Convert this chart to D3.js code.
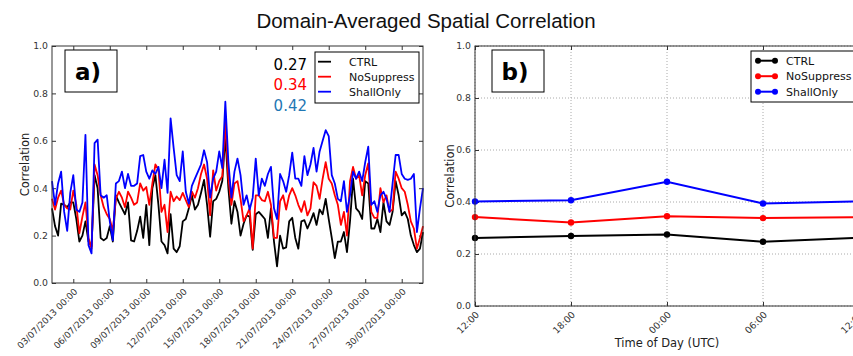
<!DOCTYPE html>
<html><head><meta charset="utf-8">
<script src="https://cdn.jsdelivr.net/npm/d3@7"></script>
<style>body{margin:0;background:#fff} svg{display:block} text{font-family:"DejaVu Sans",sans-serif}</style>
</head><body><svg id="c" width="853" height="356"></svg>
<script>
// ---------- data ----------
const startTime = "2013-07-01T06:00:00Z";
const stepHours = 6;
const ctrl = [0.315,0.24,0.20,0.335,0.33,0.32,0.34,0.34,0.27,0.175,0.20,0.26,0.175,0.155,0.455,0.40,0.19,0.18,0.19,0.24,
0.175,0.37,0.34,0.315,0.29,0.34,0.18,0.175,0.22,0.28,0.19,0.33,0.16,0.40,0.455,0.33,0.175,0.16,0.125,0.29,
0.145,0.13,0.155,0.26,0.27,0.315,0.37,0.31,0.33,0.38,0.435,0.33,0.195,0.345,0.355,0.385,0.43,0.62,0.40,0.25,
0.345,0.30,0.20,0.25,0.285,0.28,0.14,0.29,0.30,0.285,0.27,0.19,0.315,0.175,0.07,0.20,0.145,0.15,0.26,0.275,
0.19,0.145,0.26,0.265,0.23,0.26,0.295,0.245,0.31,0.29,0.355,0.27,0.19,0.105,0.175,0.175,0.215,0.13,0.26,0.44,
0.315,0.30,0.27,0.43,0.42,0.23,0.23,0.27,0.215,0.34,0.26,0.245,0.30,0.43,0.37,0.285,0.30,0.27,0.20,0.16,
0.13,0.145,0.215];
const noSuppress = [0.355,0.31,0.36,0.39,0.33,0.315,0.31,0.39,0.33,0.21,0.28,0.34,0.19,0.145,0.50,0.455,0.37,0.32,0.29,0.27,
0.22,0.355,0.385,0.36,0.32,0.385,0.36,0.33,0.34,0.42,0.39,0.405,0.33,0.42,0.50,0.48,0.30,0.33,0.215,0.385,
0.345,0.365,0.35,0.38,0.35,0.32,0.385,0.36,0.40,0.46,0.50,0.44,0.285,0.475,0.39,0.43,0.45,0.68,0.44,0.33,
0.42,0.43,0.355,0.26,0.285,0.315,0.145,0.37,0.37,0.35,0.345,0.385,0.33,0.19,0.19,0.345,0.37,0.31,0.37,0.40,
0.37,0.33,0.30,0.345,0.285,0.315,0.425,0.41,0.355,0.44,0.51,0.44,0.42,0.37,0.33,0.245,0.30,0.20,0.43,0.49,
0.44,0.455,0.37,0.455,0.505,0.30,0.275,0.275,0.40,0.34,0.37,0.30,0.31,0.47,0.44,0.40,0.385,0.33,0.26,0.23,
0.145,0.19,0.24];
const shallOnly = [0.43,0.33,0.42,0.47,0.30,0.22,0.38,0.455,0.31,0.30,0.34,0.625,0.16,0.125,0.59,0.605,0.37,0.36,0.37,0.26,
0.18,0.42,0.43,0.47,0.40,0.46,0.41,0.41,0.42,0.535,0.54,0.47,0.44,0.475,0.46,0.49,0.40,0.52,0.38,0.695,
0.57,0.455,0.43,0.555,0.385,0.335,0.41,0.44,0.47,0.50,0.56,0.51,0.36,0.44,0.47,0.555,0.485,0.765,0.51,0.36,
0.47,0.525,0.455,0.33,0.37,0.31,0.36,0.525,0.37,0.44,0.41,0.46,0.49,0.315,0.27,0.46,0.43,0.385,0.455,0.55,
0.44,0.44,0.41,0.535,0.455,0.50,0.57,0.47,0.555,0.60,0.645,0.62,0.455,0.42,0.355,0.345,0.43,0.30,0.37,0.47,
0.44,0.47,0.43,0.51,0.575,0.33,0.345,0.30,0.37,0.385,0.355,0.30,0.42,0.54,0.54,0.46,0.44,0.435,0.44,0.46,
0.215,0.315,0.40];
const seriesNames = ["CTRL","NoSuppress","ShallOnly"];
const seriesColors = ["#000000","#ff0000","#0000ff"];
const meanLabels = ["0.27","0.34","0.42"];
const meanColors = ["#000000","#ff0000","#1f77b4"];
const dateTicks = ["2013-07-03","2013-07-06","2013-07-09","2013-07-12","2013-07-15","2013-07-18","2013-07-21","2013-07-24","2013-07-27","2013-07-30"];
const yTicks = [0,0.2,0.4,0.6,0.8,1.0];
const diurnalHours = [0,6,12,18,24];
const diurnalLabels = ["12:00","18:00","00:00","06:00","12:00"];
const diurnalCtrl = [0.262,0.269,0.275,0.247,0.262];
const diurnalNoSuppress = [0.342,0.321,0.345,0.338,0.342];
const diurnalShallOnly = [0.402,0.407,0.478,0.394,0.402];

// ---------- drawing ----------
const svg = d3.select("#c");
svg.append("rect").attr("width",853).attr("height",356).attr("fill","#fff");
const frameColor = "#333", tickColor = "#333";

svg.append("text").attr("x",426).attr("y",28).attr("text-anchor","middle")
  .style("font-family","'Liberation Sans',Arial,sans-serif").style("font-size","20.5px").attr("fill","#111")
  .text("Domain-Averaged Spatial Correlation");

// Panel a
const A = {l:52, r:423, t:46, b:283};
const times = ctrl.map((_,i)=> new Date(Date.parse(startTime) + i*stepHours*3600e3));
const xa = d3.scaleUtc().domain([times[0], times[times.length-1]]).range([A.l, A.r]);
const ya = d3.scaleLinear().domain([0,1]).range([A.b, A.t]);
const fmt = d3.utcFormat("%d/%m/%Y %H:%M");
const tickDates = dateTicks.map(s=>new Date(s+"T00:00:00Z"));

function styleAxis(g){
  g.select(".domain").remove();
  g.selectAll(".tick line").attr("stroke",frameColor);
  g.selectAll("text").attr("fill",tickColor).style("font-size","9.3px").style("font-family","'DejaVu Sans',sans-serif");
}

const gxa = svg.append("g").attr("transform",`translate(0,${A.b})`)
  .call(d3.axisBottom(xa).tickValues(tickDates).tickFormat(fmt).tickSizeInner(-4).tickSizeOuter(0));
styleAxis(gxa);
gxa.selectAll("text").style("font-size","9px").attr("x",0).attr("y",0).attr("dy","0.35em").attr("text-anchor","end")
  .attr("transform","translate(2,7) rotate(-45)");
svg.append("g").attr("transform",`translate(0,${A.t})`)
  .call(d3.axisTop(xa).tickValues(tickDates).tickFormat("").tickSizeInner(-4).tickSizeOuter(0)).call(styleAxis);
const gya = svg.append("g").attr("transform",`translate(${A.l},0)`)
  .call(d3.axisLeft(ya).tickValues(yTicks).tickFormat(d3.format(".1f")).tickSizeInner(-4).tickSizeOuter(0).tickPadding(4));
styleAxis(gya);
svg.append("g").attr("transform",`translate(${A.r},0)`)
  .call(d3.axisRight(ya).tickValues(yTicks).tickFormat("").tickSizeInner(-4).tickSizeOuter(0)).call(styleAxis);

const lineA = d3.line().x((d,i)=>xa(times[i])).y(d=>ya(d));
[ctrl, noSuppress, shallOnly].forEach((s,k)=>{
  svg.append("path").datum(s).attr("d",lineA).attr("fill","none")
    .attr("stroke",seriesColors[k]).attr("stroke-width",1.8).attr("stroke-linejoin","round");
});
svg.append("rect").attr("x",A.l).attr("y",A.t).attr("width",A.r-A.l).attr("height",A.b-A.t)
  .attr("fill","none").attr("stroke",frameColor).attr("stroke-width",1);

svg.append("text").attr("transform",`translate(25,${(A.t+A.b)/2}) rotate(-90)`).attr("text-anchor","middle")
  .attr("dy","0.35em").style("font-size","11.5px").attr("fill","#222").text("Correlation");

// a) label box
svg.append("rect").attr("x",65).attr("y",50).attr("width",52).attr("height",42).attr("fill","#fff").attr("stroke","#000").attr("stroke-width",1);
svg.append("text").attr("x",88).attr("y",80).attr("text-anchor","middle").style("font-size","23px").style("font-weight","bold").text("a)");

// means
meanLabels.forEach((t,k)=>{
  svg.append("text").attr("x",307).attr("y",69.5+k*20.5).attr("text-anchor","end")
    .style("font-size","15px").attr("fill",meanColors[k]).text(t);
});

// legend a
svg.append("rect").attr("x",315).attr("y",52).attr("width",104).attr("height",51).attr("fill","#fff").attr("stroke","#000").attr("stroke-width",1);
seriesNames.forEach((n,k)=>{
  const y = 61.7 + k*15;
  svg.append("line").attr("x1",318).attr("x2",331).attr("y1",y).attr("y2",y).attr("stroke",seriesColors[k]).attr("stroke-width",1.8);
  svg.append("text").attr("x",349).attr("y",y).attr("dy","0.35em").style("font-size","11px").attr("fill","#111").text(n);
});

// Panel b
const B = {l:475, r:859, t:46, b:306};
const xb = d3.scaleLinear().domain([0,24]).range([B.l, B.r]);
const yb = d3.scaleLinear().domain([0,1]).range([B.b, B.t]);

svg.append("g").selectAll("line").data(diurnalHours).join("line")
  .attr("x1",d=>xb(d)).attr("x2",d=>xb(d)).attr("y1",B.t).attr("y2",B.b)
  .attr("stroke","#aaa").attr("stroke-width",1).attr("stroke-dasharray","1,2");
svg.append("g").selectAll("line").data(yTicks).join("line")
  .attr("y1",d=>yb(d)).attr("y2",d=>yb(d)).attr("x1",B.l).attr("x2",B.r)
  .attr("stroke","#aaa").attr("stroke-width",1).attr("stroke-dasharray","1,2");

const gxb = svg.append("g").attr("transform",`translate(0,${B.b})`)
  .call(d3.axisBottom(xb).tickValues(diurnalHours).tickFormat((d,i)=>diurnalLabels[i]).tickSizeInner(-4).tickSizeOuter(0));
styleAxis(gxb);
gxb.selectAll("text").attr("x",0).attr("y",0).attr("dy","0.35em").attr("text-anchor","end")
  .attr("transform","translate(2,7) rotate(-45)");
svg.append("g").attr("transform",`translate(0,${B.t})`)
  .call(d3.axisTop(xb).tickValues(diurnalHours).tickFormat("").tickSizeInner(-4).tickSizeOuter(0)).call(styleAxis);
const gyb = svg.append("g").attr("transform",`translate(${B.l},0)`)
  .call(d3.axisLeft(yb).tickValues(yTicks).tickFormat(d3.format(".1f")).tickSizeInner(-4).tickSizeOuter(0).tickPadding(4));
styleAxis(gyb);

const lineB = d3.line().x((d,i)=>xb(diurnalHours[i])).y(d=>yb(d));
[diurnalCtrl, diurnalNoSuppress, diurnalShallOnly].forEach((s,k)=>{
  svg.append("path").datum(s).attr("d",lineB).attr("fill","none").attr("stroke",seriesColors[k]).attr("stroke-width",2);
  svg.append("g").selectAll("circle").data(s).join("circle")
    .attr("cx",(d,i)=>xb(diurnalHours[i])).attr("cy",d=>yb(d)).attr("r",3.2).attr("fill",seriesColors[k]);
});
svg.append("rect").attr("x",B.l).attr("y",B.t).attr("width",B.r-B.l).attr("height",B.b-B.t)
  .attr("fill","none").attr("stroke",frameColor).attr("stroke-width",1);

svg.append("text").attr("transform",`translate(450,${(B.t+B.b)/2}) rotate(-90)`).attr("text-anchor","middle")
  .attr("dy","0.35em").style("font-size","11.5px").attr("fill","#222").text("Correlation");
svg.append("text").attr("x",667).attr("y",347).attr("text-anchor","middle").style("font-size","11.5px").attr("fill","#222").text("Time of Day (UTC)");

svg.append("rect").attr("x",492).attr("y",50).attr("width",52).attr("height",42).attr("fill","#fff").attr("stroke","#000").attr("stroke-width",1);
svg.append("text").attr("x",515).attr("y",80).attr("text-anchor","middle").style("font-size","23px").style("font-weight","bold").text("b)");

// legend b
svg.append("rect").attr("x",751).attr("y",51).attr("width",110).attr("height",51).attr("fill","#fff").attr("stroke","#000").attr("stroke-width",1);
seriesNames.forEach((n,k)=>{
  const y = 60.7 + k*15.5;
  svg.append("line").attr("x1",758).attr("x2",775).attr("y1",y).attr("y2",y).attr("stroke",seriesColors[k]).attr("stroke-width",2);
  svg.append("circle").attr("cx",758).attr("cy",y).attr("r",3).attr("fill",seriesColors[k]);
  svg.append("circle").attr("cx",775).attr("cy",y).attr("r",3).attr("fill",seriesColors[k]);
  svg.append("text").attr("x",786).attr("y",y).attr("dy","0.35em").style("font-size","11px").attr("fill","#111").text(n);
});
</script></body></html>
